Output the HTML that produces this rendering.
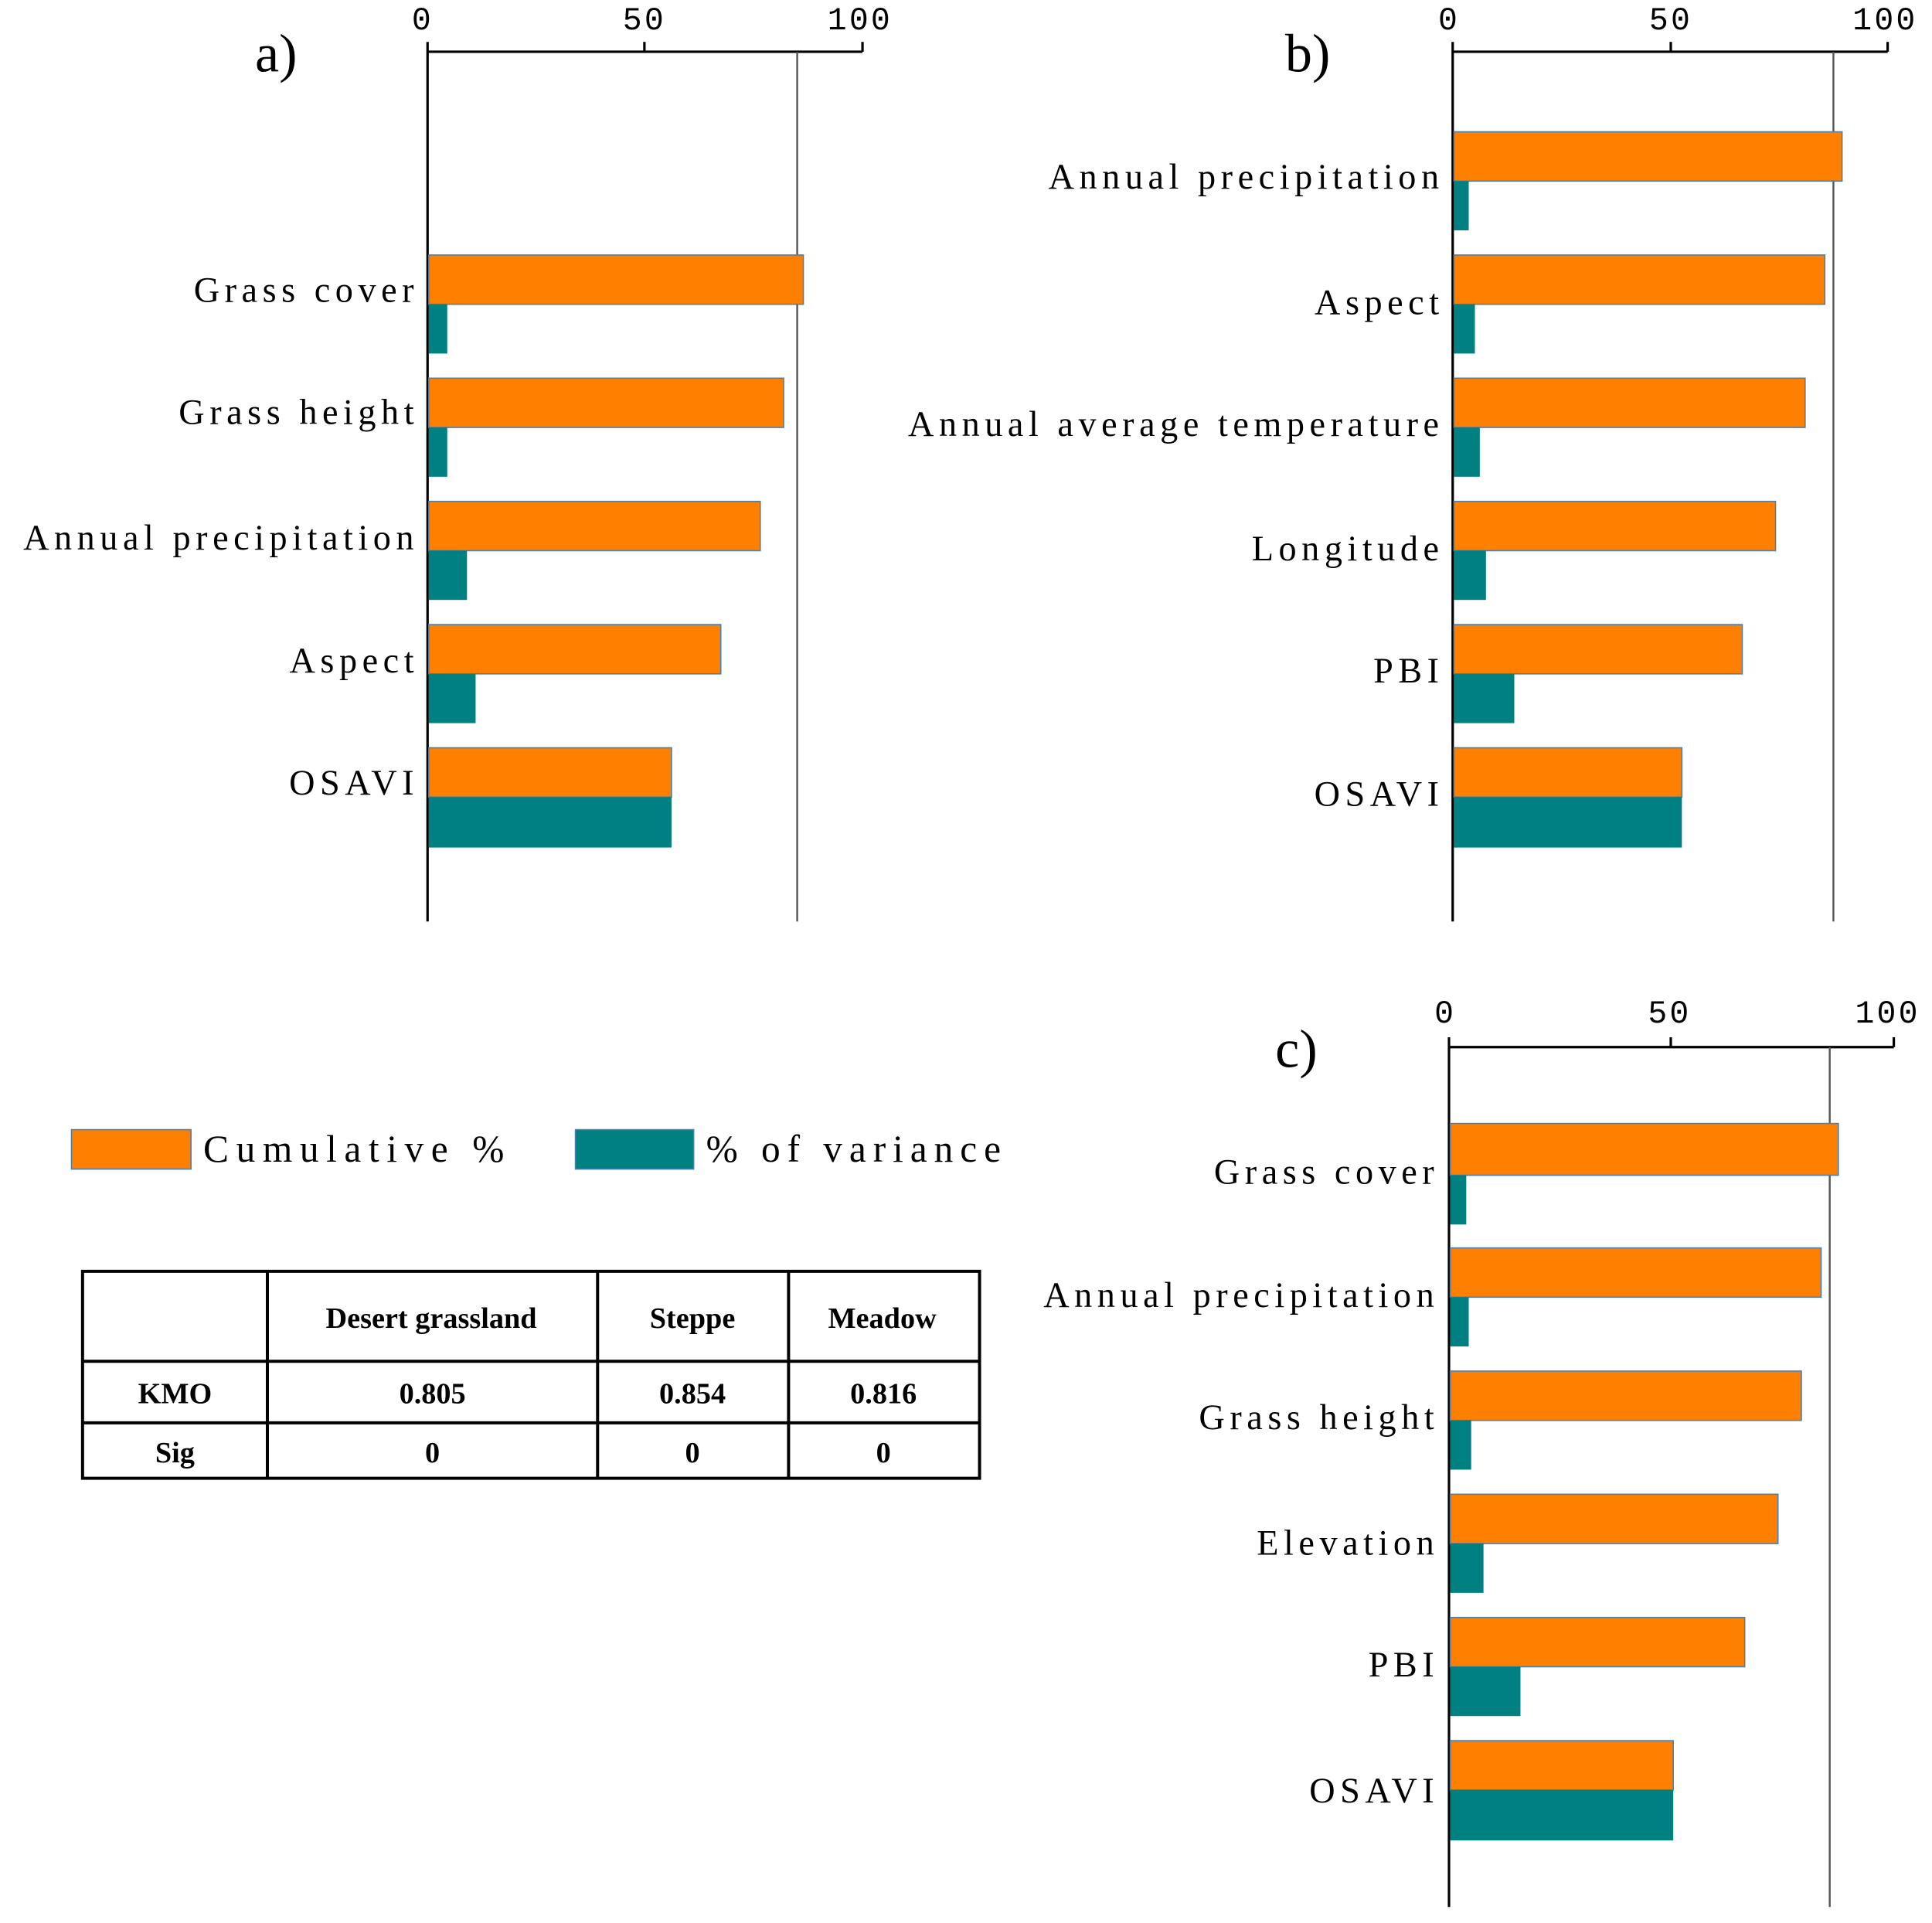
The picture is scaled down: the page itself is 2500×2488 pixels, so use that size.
<!DOCTYPE html>
<html><head><meta charset="utf-8"><style>
html,body{margin:0;padding:0;background:#fff;}
svg{display:block;}
text{font-family:"Liberation Serif",serif;fill:#000;}
.lab{font-size:29px;letter-spacing:4.1px;text-anchor:end;}
.tk{font-size:26px;letter-spacing:2px;text-anchor:middle;font-family:"Liberation Mono",monospace;}
.ttl{font-size:44px;}
.tb{font-size:24px;text-anchor:middle;font-weight:bold;}
</style></head><body>
<svg width="2500" height="2488" viewBox="0 0 1568 1561" preserveAspectRatio="none" xmlns="http://www.w3.org/2000/svg">
<g stroke="#000" stroke-width="2" fill="none">
<line x1="347" y1="42" x2="700" y2="42"/>
<line x1="347" y1="34" x2="347" y2="748"/>
<line x1="523" y1="34" x2="523" y2="42"/>
<line x1="700" y1="34" x2="700" y2="42"/>
<line x1="647" y1="42" x2="647" y2="748" stroke="#555" stroke-width="1.5"/>
<line x1="1179" y1="42" x2="1532" y2="42"/>
<line x1="1179" y1="34" x2="1179" y2="748"/>
<line x1="1356" y1="34" x2="1356" y2="42"/>
<line x1="1532" y1="34" x2="1532" y2="42"/>
<line x1="1488" y1="42" x2="1488" y2="748" stroke="#555" stroke-width="1.5"/>
<line x1="1176" y1="850" x2="1537" y2="850"/>
<line x1="1176" y1="842" x2="1176" y2="1548"/>
<line x1="1356" y1="842" x2="1356" y2="850"/>
<line x1="1537" y1="842" x2="1537" y2="850"/>
<line x1="1485" y1="850" x2="1485" y2="1548" stroke="#555" stroke-width="1.5"/>
</g>
<g fill="#FF8000" stroke="#4a7fb0" stroke-width="1">
<rect x="348" y="207" width="304" height="40"/>
<rect x="348" y="307" width="288" height="40"/>
<rect x="348" y="407" width="269" height="40"/>
<rect x="348" y="507" width="237" height="40"/>
<rect x="348" y="607" width="197" height="40"/>
<rect x="1180" y="107" width="315" height="40"/>
<rect x="1180" y="207" width="301" height="40"/>
<rect x="1180" y="307" width="285" height="40"/>
<rect x="1180" y="407" width="261" height="40"/>
<rect x="1180" y="507" width="234" height="40"/>
<rect x="1180" y="607" width="185" height="40"/>
<rect x="1177" y="912" width="315" height="42"/>
<rect x="1177" y="1013" width="301" height="40"/>
<rect x="1177" y="1113" width="285" height="40"/>
<rect x="1177" y="1213" width="266" height="40"/>
<rect x="1177" y="1313" width="239" height="40"/>
<rect x="1177" y="1413" width="181" height="40"/>
</g>
<g fill="#008080">
<rect x="348" y="247" width="15" height="40"/>
<rect x="348" y="347" width="15" height="40"/>
<rect x="348" y="447" width="31" height="40"/>
<rect x="348" y="547" width="38" height="40"/>
<rect x="348" y="647" width="197" height="41"/>
<rect x="1180" y="147" width="12" height="40"/>
<rect x="1180" y="247" width="17" height="40"/>
<rect x="1180" y="347" width="21" height="40"/>
<rect x="1180" y="447" width="26" height="40"/>
<rect x="1180" y="547" width="49" height="40"/>
<rect x="1180" y="647" width="185" height="41"/>
<rect x="1177" y="954" width="13" height="40"/>
<rect x="1177" y="1053" width="15" height="40"/>
<rect x="1177" y="1153" width="17" height="40"/>
<rect x="1177" y="1253" width="27" height="40"/>
<rect x="1177" y="1353" width="57" height="40"/>
<rect x="1177" y="1453" width="181" height="41"/>
</g>
<text class="tk" x="343" y="24">0</text><text class="tk" x="523" y="24">50</text><text class="tk" x="698" y="24">100</text>
<text class="tk" x="1176" y="24">0</text><text class="tk" x="1356" y="24">50</text><text class="tk" x="1530" y="24">100</text>
<text class="tk" x="1173" y="830">0</text><text class="tk" x="1355" y="830">50</text><text class="tk" x="1532" y="830">100</text>
<text class="ttl" x="207" y="58">a)</text>
<text class="ttl" x="1043" y="58">b)</text>
<text class="ttl" x="1035" y="866">c)</text>
<text class="lab" x="340" y="245">Grass cover</text>
<text class="lab" x="340" y="344">Grass height</text>
<text class="lab" x="340" y="446">Annual precipitation</text>
<text class="lab" x="340" y="546">Aspect</text>
<text class="lab" x="340" y="645">OSAVI</text>
<text class="lab" x="1172" y="153">Annual precipitation</text>
<text class="lab" x="1172" y="255">Aspect</text>
<text class="lab" x="1172" y="354">Annual average temperature</text>
<text class="lab" x="1172" y="455">Longitude</text>
<text class="lab" x="1172" y="554">PBI</text>
<text class="lab" x="1172" y="654">OSAVI</text>
<text class="lab" x="1168" y="961">Grass cover</text>
<text class="lab" x="1168" y="1061">Annual precipitation</text>
<text class="lab" x="1168" y="1160">Grass height</text>
<text class="lab" x="1168" y="1262">Elevation</text>
<text class="lab" x="1168" y="1361">PBI</text>
<text class="lab" x="1168" y="1463">OSAVI</text>
<rect x="58" y="917" width="97" height="32" fill="#FF8000" stroke="#4a7fb0" stroke-width="1"/>
<text x="165" y="943" style="font-size:31px;letter-spacing:6px">Cumulative %</text>
<rect x="467" y="917" width="96" height="32" fill="#008080" stroke="#4a7fb0" stroke-width="1"/>
<text x="573" y="943" style="font-size:31px;letter-spacing:5.6px">% of variance</text>
<g stroke="#000" stroke-width="2.5" fill="none">
<rect x="67" y="1032" width="728" height="168"/>
<line x1="67" y1="1105" x2="795" y2="1105"/>
<line x1="67" y1="1155" x2="795" y2="1155"/>
<line x1="217" y1="1032" x2="217" y2="1200"/>
<line x1="485" y1="1032" x2="485" y2="1200"/>
<line x1="640" y1="1032" x2="640" y2="1200"/>
</g>
<text class="tb" x="350" y="1078">Desert grassland</text>
<text class="tb" x="562" y="1078">Steppe</text>
<text class="tb" x="716" y="1078">Meadow</text>
<text class="tb" x="142" y="1139">KMO</text>
<text class="tb" x="351" y="1139">0.805</text>
<text class="tb" x="562" y="1139">0.854</text>
<text class="tb" x="717" y="1139">0.816</text>
<text class="tb" x="142" y="1187">Sig</text>
<text class="tb" x="351" y="1187">0</text>
<text class="tb" x="562" y="1187">0</text>
<text class="tb" x="717" y="1187">0</text>
</svg>
</body></html>
